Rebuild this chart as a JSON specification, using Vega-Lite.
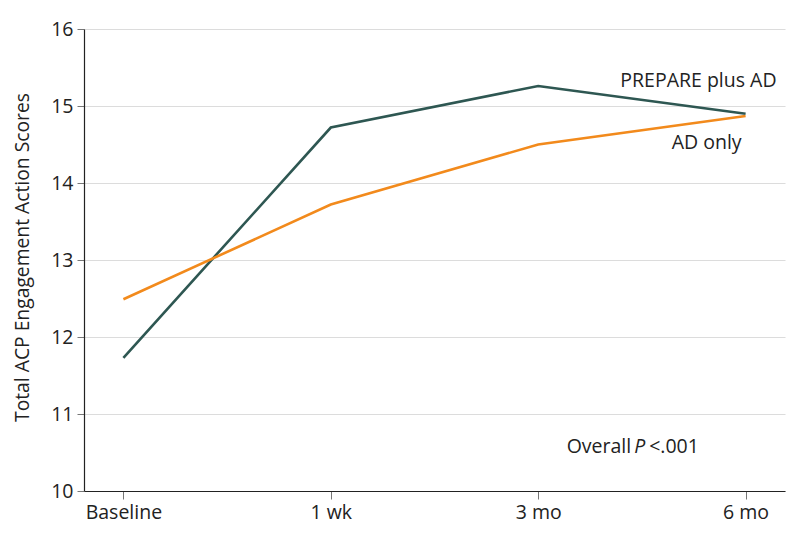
{
  "$schema": "https://vega.github.io/schema/vega-lite/v6.json",
  "autosize": {"type": "none"},
  "width": 701,
  "height": 462,
  "padding": {"left": 84, "top": 29, "right": 13, "bottom": 55},
  "background": "white",
  "config": {
    "view": {"stroke": null},
    "font": "Open Sans",
    "axis": {"labelFont": "Open Sans", "titleFont": "Open Sans"}
  },
  "datasets": {
    "scores": [
      {"time": "Baseline", "group": "PREPARE plus AD", "score": 11.73},
      {"time": "1 wk", "group": "PREPARE plus AD", "score": 14.72},
      {"time": "3 mo", "group": "PREPARE plus AD", "score": 15.26},
      {"time": "6 mo", "group": "PREPARE plus AD", "score": 14.9},
      {"time": "Baseline", "group": "AD only", "score": 12.49},
      {"time": "1 wk", "group": "AD only", "score": 13.72},
      {"time": "3 mo", "group": "AD only", "score": 14.5},
      {"time": "6 mo", "group": "AD only", "score": 14.87}
    ],
    "seriesLabels": [
      {"time": "6 mo", "score": 15.32, "label": "PREPARE plus AD"},
      {"time": "6 mo", "score": 14.52, "label": "AD only"}
    ],
    "pnote": [
      {"time": "3 mo", "score": 10.57, "part": "Overall"}
    ]
  },
  "encoding": {
    "x": {
      "field": "time", "type": "ordinal",
      "sort": ["Baseline", "1 wk", "3 mo", "6 mo"],
      "scale": {"type": "point", "domain": ["Baseline", "1 wk", "3 mo", "6 mo"], "padding": 0.19},
      "axis": {
        "title": null, "labelAngle": 0, "labelFontSize": 19.5, "labelColor": "#222",
        "domainColor": "#222", "domainWidth": 1.2, "tickColor": "#777", "tickSize": 8,
        "labelPadding": 4, "grid": false
      }
    },
    "y": {
      "field": "score", "type": "quantitative",
      "scale": {"domain": [10, 16], "nice": false, "zero": false},
      "axis": {
        "title": "Total ACP Engagement Action Scores", "titleFontSize": 19.3, "titleFontWeight": "normal",
        "titleColor": "#222", "titleX": -52, "titleY": 228,
        "values": [10, 11, 12, 13, 14, 15, 16], "labelFontSize": 19.5, "labelColor": "#222",
        "domainColor": "#222", "domainWidth": 1.2, "tickColor": "#777", "tickSize": 7, "labelPadding": 4,
        "grid": true, "gridColor": "#dcdcdc", "gridWidth": 1.2
      }
    }
  },
  "layer": [
    {
      "data": {"name": "scores"},
      "mark": {"type": "line", "strokeWidth": 2.6},
      "encoding": {
        "color": {
          "field": "group", "type": "nominal",
          "scale": {"domain": ["PREPARE plus AD", "AD only"], "range": ["#2e5752", "#f28a1c"]},
          "legend": null
        }
      }
    },
    {
      "data": {"name": "seriesLabels"},
      "mark": {"type": "text", "align": "right", "baseline": "middle", "fontSize": 19.5, "color": "#222", "dx": 31},
      "transform": [{"filter": "datum.label == 'PREPARE plus AD'"}],
      "encoding": {"text": {"field": "label"}}
    },
    {
      "data": {"name": "seriesLabels"},
      "mark": {"type": "text", "align": "right", "baseline": "middle", "fontSize": 19.5, "color": "#222", "dx": -4},
      "transform": [{"filter": "datum.label == 'AD only'"}],
      "encoding": {"text": {"field": "label"}}
    },
    {
      "data": {"name": "pnote"},
      "mark": {"type": "text", "align": "right", "baseline": "middle", "fontSize": 19.5, "color": "#222", "dx": 93},
      "encoding": {"text": {"field": "part"}}
    },
    {
      "data": {"name": "pnote"},
      "mark": {"type": "text", "align": "left", "baseline": "middle", "fontSize": 19.5, "color": "#222", "dx": 96, "fontStyle": "italic"},
      "encoding": {"text": {"value": "P"}}
    },
    {
      "data": {"name": "pnote"},
      "mark": {"type": "text", "align": "left", "baseline": "middle", "fontSize": 19.5, "color": "#222", "dx": 111},
      "encoding": {"text": {"value": "<.001"}}
    }
  ]
}
